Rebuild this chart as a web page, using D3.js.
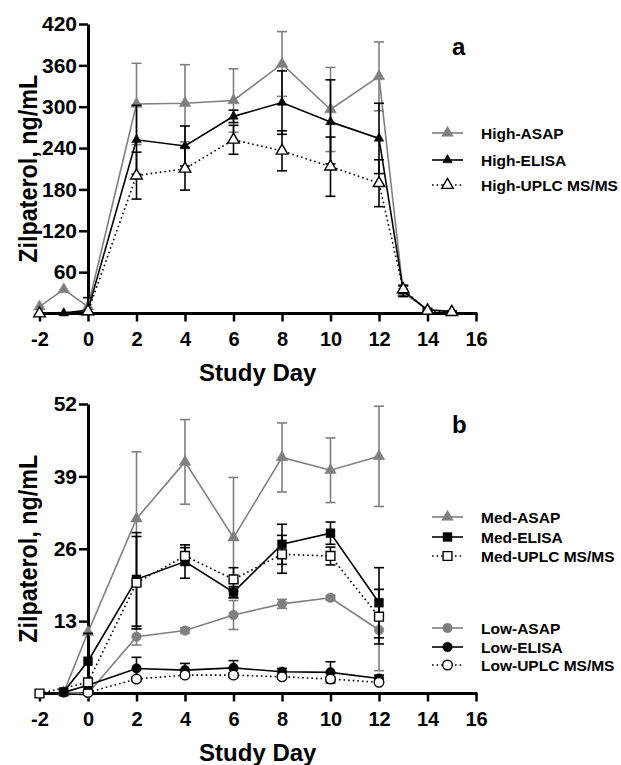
<!DOCTYPE html>
<html lang="en">
<head>
<meta charset="utf-8">
<title>Zilpaterol by study day</title>
<script src="https://cdn.jsdelivr.net/npm/d3@7"></script>
<style>
  html, body { margin: 0; padding: 0; background: #fff; }
  svg text { font-family: "Liberation Sans", Arial, sans-serif; font-weight: bold; fill: #000; }
</style>
</head>
<body>
<div id="chart"></div>
<script>
// ---- values ----
// panel a (high dose)
var highDays      = [-2, -1, 0, 2, 4, 6, 8, 10, 12, 13, 14, 15];
var highAsap      = [10, 35, 10, 304, 305, 309, 362, 296, 344, 30, 6, 3];
var highAsapSd    = [0, 0, 0, 59, 56, 46, 47, 61, 50, 6, 2, 1];
var highElisaDays = [-1, 0, 2, 4, 6, 8, 10, 12, 13, 14, 15];
var highElisa     = [0.5, 5, 252, 243, 286, 306, 278, 254, 33, 5, 3];
var highElisaSd   = [0, 18, 50, 29, 9, 46, 61, 51, 8, 2, 1];
var highUplcDays  = [-2, 0, 2, 4, 6, 8, 10, 12, 13, 14, 15];
var highUplc      = [0, 3, 200, 210, 252, 236, 213, 189, 35, 4, 2];
var highUplcSd    = [0, 0, 34, 31, 21, 29, 43, 34, 5, 1, 1];

// panel b (medium and low dose)
var medDays       = [-1, 0, 2, 4, 6, 8, 10, 12];
var medAsap       = [0.2, 11, 31.4, 41.6, 28, 42.4, 40.1, 42.6];
var medAsapSd     = [0, 0, 12, 7.6, 10.8, 6.2, 5.8, 9];
var medElisa      = [0.3, 5.8, 20.5, 23.7, 18.2, 26.8, 28.8, 16.3];
var medElisaSd    = [0, 5, 8.4, 3, 1, 3.6, 2, 6.3];
var medUplcDays   = [-2, 0, 2, 4, 6, 8, 10, 12];
var medUplc       = [0, 2, 19.9, 24.7, 20.5, 25, 24.7, 13.8];
var medUplcSd     = [0, 0, 8.3, 1.5, 2.1, 3.4, 1.6, 4.9];
var lowDays       = [-1, 0, 2, 4, 6, 8, 10, 12];
var lowAsap       = [0.2, 0, 10.2, 11.3, 14.1, 16.1, 17.2, 11.4];
var lowAsapSd     = [0, 0, 1.5, 0.5, 2.6, 0.8, 0.4, 7.3];
var lowElisa      = [0.2, 1.5, 4.5, 4.2, 4.6, 3.9, 3.8, 2.7];
var lowElisaSd    = [0, 0, 2, 1.2, 1.3, 0.6, 1.9, 0.6];
var lowUplcDays   = [0, 2, 4, 6, 8, 10, 12];
var lowUplc       = [0.2, 2.6, 3.3, 3.3, 3, 2.6, 2];
var lowUplcSd     = [0, 0.4, 0.4, 0.4, 0.3, 0.4, 0.3];

// axes
var xTicks  = [-2, 0, 2, 4, 6, 8, 10, 12, 14, 16];
var yTicksA = [0, 60, 120, 180, 240, 300, 360, 420];
var yTicksB = [0, 13, 26, 39, 52];

var GREY = "#7f7f7f";

function serie(name, days, vals, sd, shape, col, fill, dotted) {
  return { name: name, shape: shape, col: col, fill: fill, dotted: dotted,
    pts: days.map(function(d, i) { return { x: d, y: vals[i], e: sd[i] }; }) };
}

var seriesA = [
  serie("High-ASAP", highDays, highAsap, highAsapSd, "tri", GREY, GREY, false),
  serie("High-ELISA", highElisaDays, highElisa, highElisaSd, "triS", "#000", "#000", false),
  serie("High-UPLC MS/MS", highUplcDays, highUplc, highUplcSd, "tri", "#000", "#fff", true)
];
var seriesB = [
  serie("Med-ASAP", medDays, medAsap, medAsapSd, "tri", GREY, GREY, false),
  serie("Med-ELISA", medDays, medElisa, medElisaSd, "sq", "#000", "#000", false),
  serie("Med-UPLC MS/MS", medUplcDays, medUplc, medUplcSd, "sq", "#000", "#fff", true),
  serie("Low-ASAP", lowDays, lowAsap, lowAsapSd, "circ", GREY, GREY, false),
  serie("Low-ELISA", lowDays, lowElisa, lowElisaSd, "circ", "#000", "#000", false),
  serie("Low-UPLC MS/MS", lowUplcDays, lowUplc, lowUplcSd, "circ", "#000", "#fff", true)
];

var svg = d3.select("#chart").append("svg").attr("width", 621).attr("height", 765);
var x = d3.scaleLinear().domain([-2, 16]).range([39.5, 476]);

function symbolPath(shape) {
  if (shape == "tri") return d3.symbol(d3.symbolTriangle, 58)();
  if (shape == "triS") return d3.symbol(d3.symbolTriangle, 40)();
  if (shape == "sq") return d3.symbol(d3.symbolSquare, 78)();
  return d3.symbol(d3.symbolCircle, 72)();
}

function drawPanel(series, order, y, yTicks, letter, letterY, legendRows) {
  var g = svg.append("g");
  var y0 = y(0);

  // x axis
  var xa = g.append("g").attr("transform", "translate(0," + y0 + ")");
  xa.call(d3.axisBottom(x).tickValues(d3.range(-1, 16, 2)).tickSize(5).tickSizeOuter(0).tickFormat(""));
  xa.call(d3.axisBottom(x).tickValues(xTicks).tickSize(8).tickSizeOuter(0).tickPadding(10)
    .tickFormat(function(d) { return String(d); }));
  xa.selectAll(".domain").attr("stroke-width", 3).attr("d", "M" + (x(-2) - 1.5) + ",0H" + (x(16) + 1.5));
  xa.selectAll(".tick line").attr("stroke-width", 2.5);
  xa.selectAll("text").attr("font-size", 20).attr("font-family", null);

  // y axis at day 0
  var mid = [];
  for (var i = 0; i < yTicks.length - 1; i++) mid.push((yTicks[i] + yTicks[i + 1]) / 2);
  var ya = g.append("g").attr("transform", "translate(" + x(0) + ",0)");
  ya.call(d3.axisLeft(y).tickValues(mid).tickSize(5).tickSizeOuter(0).tickFormat(""));
  ya.call(d3.axisLeft(y).tickValues(yTicks).tickSize(9).tickSizeOuter(0).tickPadding(2)
    .tickFormat(function(d) { return d === 0 ? "" : String(d); }));
  ya.selectAll(".domain").attr("stroke-width", 3);
  ya.selectAll(".tick line").attr("stroke-width", 2.5);
  ya.selectAll("text").attr("font-size", 21).attr("font-family", null);

  // titles
  g.append("text").attr("x", (x(-2) + x(16)) / 2).attr("y", y0 + 67)
    .attr("text-anchor", "middle").attr("font-size", 24).text("Study Day");
  g.append("text").attr("transform", "translate(37," + (y(yTicks[yTicks.length - 1]) + y0) / 2 + ") rotate(-90)")
    .attr("text-anchor", "middle").attr("font-size", 26)
    .attr("textLength", 188).attr("lengthAdjust", "spacingAndGlyphs").text("Zilpaterol, ng/mL");
  g.append("text").attr("x", 452).attr("y", letterY).attr("font-size", 24).text(letter);

  // series
  var line = d3.line().x(function(d) { return x(d.x); }).y(function(d) { return y(d.y); });
  order.forEach(function(k) {
    var s = series[k];
    var sg = g.append("g");
    var bars = s.pts.filter(function(p) { return p.e > 0; });
    var eb = sg.selectAll(".eb").data(bars).enter().append("g")
      .attr("stroke", s.col).attr("stroke-width", 1.6).attr("fill", "none");
    eb.append("line").attr("x1", function(p) { return x(p.x); }).attr("x2", function(p) { return x(p.x); })
      .attr("y1", function(p) { return y(Math.max(0, p.y - p.e)); }).attr("y2", function(p) { return y(p.y + p.e); });
    eb.append("line").attr("x1", function(p) { return x(p.x) - 5; }).attr("x2", function(p) { return x(p.x) + 5; })
      .attr("y1", function(p) { return y(p.y + p.e); }).attr("y2", function(p) { return y(p.y + p.e); });
    eb.filter(function(p) { return p.y - p.e > 0; }).append("line")
      .attr("x1", function(p) { return x(p.x) - 5; }).attr("x2", function(p) { return x(p.x) + 5; })
      .attr("y1", function(p) { return y(p.y - p.e); }).attr("y2", function(p) { return y(p.y - p.e); });
    sg.append("path").datum(s.pts).attr("d", line).attr("fill", "none")
      .attr("stroke", s.col).attr("stroke-width", 1.6)
      .attr("stroke-dasharray", s.dotted ? "1.6,3" : null);
    sg.selectAll(".m").data(s.pts).enter().append("path")
      .attr("transform", function(p) { return "translate(" + x(p.x) + "," + y(p.y) + ")"; })
      .attr("d", symbolPath(s.shape)).attr("fill", s.fill)
      .attr("stroke", s.col).attr("stroke-width", s.fill == "#fff" ? 1.4 : 0.5);
  });

  // legend
  legendRows.forEach(function(r) {
    var s = series[r.i];
    var lg = g.append("g").attr("transform", "translate(0," + r.y + ")");
    lg.append("line").attr("x1", 432).attr("x2", 463).attr("stroke", s.col).attr("stroke-width", 1.6)
      .attr("stroke-dasharray", s.dotted ? "1.6,3" : null);
    lg.append("path").attr("transform", "translate(447.5,0)").attr("d", symbolPath(s.shape))
      .attr("fill", s.fill).attr("stroke", s.col).attr("stroke-width", s.fill == "#fff" ? 1.4 : 0.5);
    lg.append("text").attr("x", 481).attr("y", 5.5).attr("font-size", 15.5).text(s.name);
  });
}

var yA = d3.scaleLinear().domain([0, 420]).range([313.5, 24]);
var yB = d3.scaleLinear().domain([0, 52]).range([693.5, 404]);

drawPanel(seriesA, [0, 1, 2], yA, yTicksA, "a", 55, [{ i: 0, y: 133 }, { i: 1, y: 160 }, { i: 2, y: 185 }]);
drawPanel(seriesB, [3, 4, 5, 0, 1, 2], yB, yTicksB, "b", 433, [
  { i: 0, y: 517 }, { i: 1, y: 537 }, { i: 2, y: 556 },
  { i: 3, y: 628 }, { i: 4, y: 647 }, { i: 5, y: 665 }
]);
</script>
</body>
</html>
